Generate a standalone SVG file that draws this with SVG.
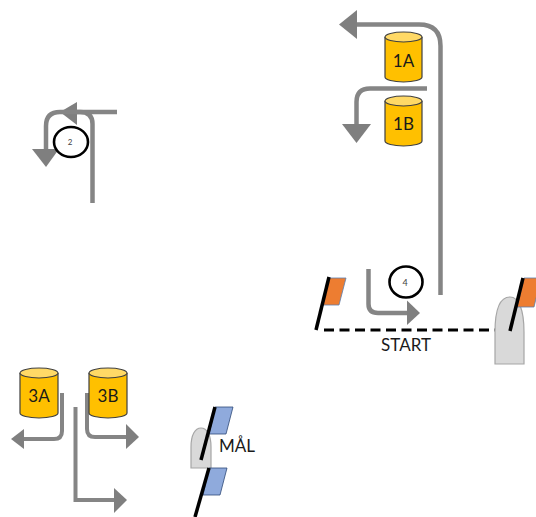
<svg xmlns="http://www.w3.org/2000/svg" width="536" height="517" viewBox="0 0 536 517">
<style>
.a{fill:none;stroke:#858585;stroke-width:4.500}
.h{fill:#7f7f7f}
.cb{fill:#ffc000;stroke:#404040;stroke-width:1.200}
.ct{fill:#ffd966;stroke:#404040;stroke-width:1.200}
.t{font-family:Lato,"Liberation Sans",sans-serif;fill:#1a1a1a}
.l{font-size:17px;text-anchor:middle}
.p{stroke:#000;stroke-width:3.500;fill:none}
.fo{fill:#ed7d31;stroke:#5b7fb0;stroke-width:.8}
.fb{fill:#8faadc;stroke:#2f4a78;stroke-width:.8}
.b{fill:#d9d9d9;stroke:#a6a6a6;stroke-width:1.200}
.c{fill:#fff;stroke:#000;stroke-width:2.600}
.n{font-size:9px;text-anchor:middle;fill:#404040}
</style>
<g id="connectors">
<path class="a" d="M440.500 295V46Q440.500 24.500 419 24.500H355"/><polygon class="h" points="339,24.500 357,10 357,39"/>
<path class="a" d="M427 88.500H370Q356.500 88.500 356.500 102V126"/><polygon class="h" points="342,124 371,124 356.500,143"/>
<path class="a" d="M368.500 269V304Q368.500 313 378 313H409"/><polygon class="h" points="420,313 407,300.500 407,325"/>
<path class="a" d="M92.500 203V124Q92.500 112 80 112H75"/><polygon class="h" points="60,112 77,102 77,125"/>
<path class="a" d="M117 112H60Q46 112 46 126V151"/><polygon class="h" points="32,149 59,149 46,167"/>
<path class="a" style="stroke-width:4" d="M62 393V431Q62 439 54 439H22"/><polygon class="h" points="11,439 24,429 24,449"/>
<path class="a" style="stroke-width:4" d="M87 393V429Q87 437 95 437H128"/><polygon class="h" points="139,437 126,424 126,449"/>
<path class="a" style="stroke-width:4" d="M75.500 407V500H116"/><polygon class="h" points="127,500 114,488 114,513"/>
<path d="M324 330H506" fill="none" stroke="#000" stroke-width="3" stroke-dasharray="10 5.500"/>
</g>
<g id="node-1A">
<path class="cb" d="M385 37V77A18.500 5 0 0 0 422 77V37"/><ellipse class="ct" cx="403.500" cy="37" rx="18.500" ry="5"/>
<text class="t l" x="403.500" y="67">1A</text>
</g>
<g id="node-1B">
<path class="cb" d="M385 101V141A18.500 5 0 0 0 422 141V101"/><ellipse class="ct" cx="403.500" cy="101" rx="18.500" ry="5"/>
<text class="t l" x="403.500" y="130">1B</text>
</g>
<g id="node-3A">
<path class="cb" d="M20 373V413A19 5 0 0 0 58 413V373"/><ellipse class="ct" cx="39" cy="373" rx="19" ry="5"/>
<text class="t l" x="39" y="402">3A</text>
</g>
<g id="node-3B">
<path class="cb" d="M89 373V413A19 5 0 0 0 127 413V373"/><ellipse class="ct" cx="108" cy="373" rx="19" ry="5"/>
<text class="t l" x="108" y="402">3B</text>
</g>
<g id="node-circle-2">
<ellipse class="c" cx="71" cy="142" rx="17" ry="15"/>
<text class="t n" x="70" y="145" style="font-size:8px">2</text>
</g>
<g id="node-circle-4">
<ellipse class="c" cx="406" cy="282" rx="16.500" ry="15.500"/>
<text class="t n" x="405" y="286">4</text>
</g>
<g id="node-start-left">
<polygon class="fo" points="329,278 346,278 339,305 323,305"/>
<path class="p" d="M316 330L329 277"/>
</g>
<g id="node-start-right">
<path class="b" d="M495 364V332C495 310 500 297 510 297C519 297 524 310 524 332V364Z"/>
<polygon class="fo" points="524,278 541,278 534,307 517,307"/>
<path class="p" d="M510 331L523 278"/>
</g>
<text id="label-start" class="t l" x="406" y="351">START</text>
<g id="node-finish">
<path class="b" d="M191 468V447C191 435 195 428 201 428C207 428 211 435 211 447V468Z"/>
<polygon class="fb" points="215,407 233,407 226,434 209,434"/>
<polygon class="fb" points="209,468 227,468 220,495 203,495"/>
<path class="p" d="M215 407L201 460"/>
<path class="p" d="M209 468L195 517"/>
</g>
<text id="label-mal" class="t" x="219" y="452" font-size="17">MÅL</text>
</svg>
